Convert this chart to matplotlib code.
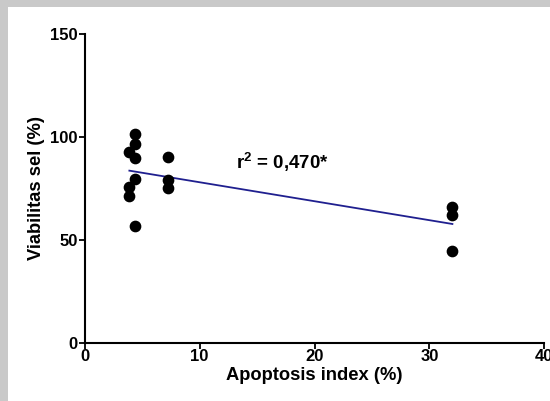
import numpy as np
import matplotlib
matplotlib.use("Agg")
import matplotlib.pyplot as plt
from matplotlib.patches import Rectangle

# data
apoptosis = [3.88, 3.88, 3.88, 4.38, 4.38, 4.38, 4.38, 4.38,
             7.28, 7.28, 7.28, 32.0, 32.0, 32.0]
viability = [92.7, 75.7, 71.4, 101.3, 96.5, 89.5, 79.6, 56.8,
             90.0, 79.0, 75.0, 65.7, 62.0, 44.7]
x_ticks = [0, 10, 20, 30, 40]
y_ticks = [0, 50, 100, 150]
r2_label = "r$^{2}$ = 0,470*"

plt.rcParams['font.family'] = ['Liberation Sans', 'DejaVu Sans']
plt.rcParams['font.weight'] = 'bold'
plt.rcParams['mathtext.fontset'] = 'custom'
plt.rcParams['mathtext.rm'] = 'Liberation Sans:bold'
plt.rcParams['mathtext.default'] = 'rm'

fig = plt.figure(figsize=(5.5, 4.01), dpi=100)
fig.patch.set_facecolor('#c9c9c9')
# white panel inside the gray frame
fig.patches.append(Rectangle((8 / 550, 0), 1, 1 - 7 / 401, transform=fig.transFigure,
                             facecolor='white', edgecolor='none', zorder=-10))

ax = fig.add_axes([84.8 / 550, 58.3 / 401, 459.5 / 550, 309 / 401])
ax.set_facecolor('none')

ax.scatter(apoptosis, viability, s=55, color='black', zorder=3, clip_on=False)

# linear regression line over the data range
slope, intercept = np.polyfit(apoptosis, viability, 1)
xs = np.array([min(apoptosis), max(apoptosis)])
ax.plot(xs, slope * xs + intercept, color='#1f1f8f', lw=1.3, zorder=2)

ax.text(13.2, 84.5, r2_label, fontsize=13.5, fontweight='bold', color='black')

ax.set_xlim(0, 40)
ax.set_ylim(0, 150)
ax.set_xticks(x_ticks)
ax.set_yticks(y_ticks)
ax.tick_params(direction='out', length=4, width=1.3, labelsize=12, colors='black')
ax.tick_params(axis='x', pad=0.5)
ax.tick_params(axis='y', pad=1)
for lab in ax.get_xticklabels() + ax.get_yticklabels():
    lab.set_fontweight('bold')

for side in ['top', 'right']:
    ax.spines[side].set_visible(False)
for side in ['left', 'bottom']:
    ax.spines[side].set_linewidth(1.5)
    ax.spines[side].set_color('black')

ax.set_xlabel('Apoptosis index (%)', fontsize=13.2, fontweight='bold', labelpad=2)
ax.set_ylabel('Viabilitas sel (%)', fontsize=13.2, fontweight='bold', labelpad=4)

fig.savefig('out.png', dpi=100, facecolor=fig.get_facecolor())
